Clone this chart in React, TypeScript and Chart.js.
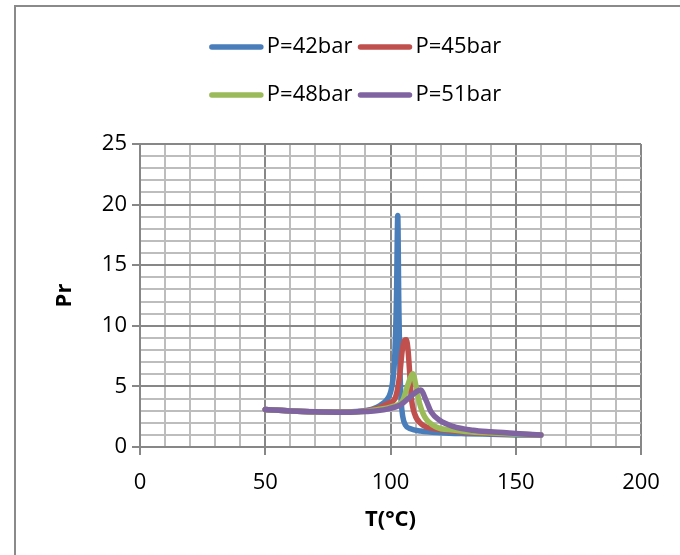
import React, { useEffect, useRef } from "react";
import { Chart, registerables } from "chart.js";

Chart.register(...registerables);

const seriesLabels = ["P=42bar", "P=45bar", "P=48bar", "P=51bar"];
const seriesColors = ["#4A7EBB", "#C0504D", "#9BBB59", "#8064A2"];

const tempP42 = [50, 60, 70, 80, 88, 93, 96, 98.5, 100, 101, 101.8, 102.4, 102.9, 103.3, 103.7, 104.2, 104.9, 106, 108, 112, 120, 130, 140, 150, 160];
const prP42 = [3.1, 2.98, 2.9, 2.88, 2.95, 3.15, 3.45, 3.9, 4.5, 5.6, 8, 12.5, 19.1, 12, 7, 4, 2.5, 1.8, 1.5, 1.32, 1.18, 1.1, 1.05, 1.0, 0.98];

const tempP45 = [50, 60, 70, 80, 90, 95, 99, 102, 103.6, 104.7, 105.6, 106.3, 107, 107.6, 108.3, 109.6, 112.3, 118, 125, 130, 140, 150, 160];
const prP45 = [3.1, 2.98, 2.9, 2.88, 2.98, 3.2, 3.6, 4.1, 5.8, 8.0, 8.8, 8.85, 8.0, 6.3, 4.1, 2.75, 1.9, 1.5, 1.32, 1.22, 1.12, 1.05, 1.0];

const tempP48 = [50, 60, 70, 80, 90, 95, 100, 104.9, 106.9, 108.2, 108.9, 110.3, 111.6, 113.6, 118.2, 125, 130, 140, 150, 160];
const prP48 = [3.1, 2.98, 2.9, 2.88, 2.95, 3.1, 3.3, 3.85, 5.1, 5.85, 6.05, 4.9, 3.6, 2.5, 1.65, 1.4, 1.28, 1.15, 1.06, 1.0];

const tempP51 = [50, 60, 70, 80, 90, 95, 99.2, 103.6, 107.6, 110.3, 112, 114.2, 116.2, 119.6, 124.9, 132.9, 140, 150, 160];
const prP51 = [3.1, 2.98, 2.9, 2.86, 2.93, 3.0, 3.15, 3.43, 4.1, 4.55, 4.7, 3.85, 2.9, 2.2, 1.7, 1.38, 1.25, 1.12, 1.0];

const xMajorTicks = [0, 50, 100, 150, 200];
const yMajorTicks = [0, 5, 10, 15, 20, 25];

const xTitle = "T(°C)";
const yTitle = "Pr";

const FONT = "'Open Sans', sans-serif";
const MAJOR = "#878787";
const MINOR = "#bdbdbd";

const toPoints = (xs: number[], ys: number[]) => xs.map((x, i) => ({ x, y: ys[i] }));

const frameAndLegend = {
  id: "frameAndLegend",
  beforeDraw(chart: any) {
    const ctx = chart.ctx;
    ctx.save();
    ctx.fillStyle = "#ffffff";
    ctx.fillRect(0, 0, chart.width, chart.height);
    ctx.strokeStyle = "#8a8a8a";
    ctx.lineWidth = 2;
    ctx.strokeRect(15, 6, 800, 700);
    ctx.restore();
  },
  afterDraw(chart: any) {
    const ctx = chart.ctx;
    const ds = chart.data.datasets;
    const rows = [[0, 1], [2, 3]];
    const rowY = [47, 95];
    const lineLen = 55;
    const gap = 3;
    const itemGap = 5;
    const centerX = 355;
    ctx.save();
    ctx.font = `22px ${FONT}`;
    ctx.textBaseline = "middle";
    rows.forEach((row, r) => {
      const widths = row.map((i) => lineLen + gap + ctx.measureText(ds[i].label).width);
      const total = widths.reduce((a, b) => a + b, 0) + itemGap * (row.length - 1);
      let x = centerX - total / 2;
      row.forEach((i, k) => {
        const y = rowY[r];
        ctx.strokeStyle = ds[i].borderColor;
        ctx.lineWidth = 5.5;
        ctx.lineCap = "round";
        ctx.beginPath();
        ctx.moveTo(x + 3, y);
        ctx.lineTo(x + lineLen - 3, y);
        ctx.stroke();
        ctx.fillStyle = "#000000";
        ctx.textAlign = "left";
        ctx.fillText(ds[i].label, x + lineLen + gap, y);
        x += widths[k] + itemGap;
      });
    });
    ctx.restore();
  },
};

export default function App() {
  const canvasRef = useRef<HTMLCanvasElement | null>(null);

  useEffect(() => {
    if (!canvasRef.current) return;
    const temps = [tempP42, tempP45, tempP48, tempP51];
    const prs = [prP42, prP45, prP48, prP51];
    const chart = new Chart(canvasRef.current, {
      type: "line",
      data: {
        datasets: seriesLabels.map((label, i) => ({
          label,
          data: toPoints(temps[i], prs[i]),
          borderColor: seriesColors[i],
          backgroundColor: seriesColors[i],
          borderWidth: 5.5,
          pointRadius: 0,
          borderCapStyle: "round",
          borderJoinStyle: "round",
          cubicInterpolationMode: "monotone",
          fill: false,
          order: 4 - i,
        })),
      },
      options: {
        animation: false,
        responsive: true,
        maintainAspectRatio: false,
        layout: { padding: { left: 0, top: 144, right: 39, bottom: 0 } },
        plugins: { legend: { display: false }, tooltip: { enabled: false } },
        scales: {
          x: {
            type: "linear",
            min: 0,
            max: 200,
            afterFit: (s: any) => {
              s.height = 108;
            },
            ticks: {
              stepSize: 10,
              autoSkip: false,
              maxRotation: 0,
              padding: 15,
              color: "#000",
              font: { family: FONT, size: 22 },
              callback: (v: any) => (xMajorTicks.includes(Number(v)) ? String(v) : ""),
            },
            grid: {
              lineWidth: 2,
              tickLength: 8,
              color: (c: any) => (c.tick && c.tick.value % 50 === 0 ? MAJOR : MINOR),
              tickColor: (c: any) => (c.tick && c.tick.value % 50 === 0 ? MAJOR : "rgba(0,0,0,0)"),
            },
            border: { color: MAJOR, width: 2 },
            title: {
              display: true,
              text: xTitle,
              color: "#000",
              font: { family: FONT, size: 22, weight: "bold" },
              padding: { top: 0, bottom: 22 },
            },
          },
          y: {
            type: "linear",
            min: 0,
            max: 25,
            afterFit: (s: any) => {
              s.width = 140;
            },
            ticks: {
              stepSize: 1,
              autoSkip: false,
              padding: 5,
              color: "#000",
              font: { family: FONT, size: 22 },
              callback: (v: any) => (yMajorTicks.includes(Number(v)) ? String(v) : ""),
            },
            grid: {
              lineWidth: 2,
              tickLength: 8,
              color: (c: any) => (c.tick && c.tick.value % 5 === 0 ? MAJOR : MINOR),
              tickColor: (c: any) => (c.tick && c.tick.value % 5 === 0 ? MAJOR : "rgba(0,0,0,0)"),
            },
            border: { color: MAJOR, width: 2 },
            title: {
              display: true,
              text: yTitle,
              color: "#000",
              font: { family: FONT, size: 22, weight: "bold" },
              padding: { top: 52, bottom: 0 },
            },
          },
        },
      },
      plugins: [frameAndLegend],
    } as any);
    return () => chart.destroy();
  }, []);

  return (
    <div style={{ position: "absolute", left: 0, top: 0, width: 680, height: 555 }}>
      <canvas ref={canvasRef} />
    </div>
  );
}
